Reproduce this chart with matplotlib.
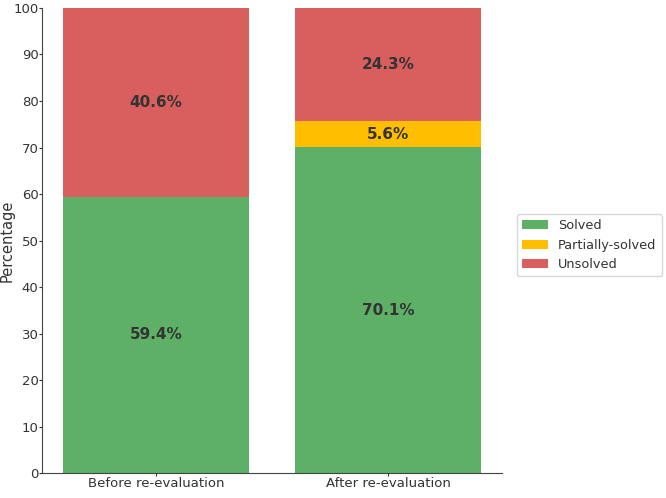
import matplotlib
matplotlib.use("Agg")
import matplotlib.pyplot as plt
import numpy as np

categories = ["Before re-evaluation", "After re-evaluation"]
solved = [59.4, 70.1]
partially = [0.0, 5.6]
unsolved = [40.6, 24.3]

green = "#5db066"
yellow = "#ffbf00"
red = "#d95f5e"
text_col = "#333333"

fig = plt.figure(figsize=(6.66, 4.98), dpi=100)
ax = fig.add_axes([0.063, 0.050, 0.691, 0.934])

x = np.arange(len(categories))
ax.bar(x, solved, width=0.8, color=green, label="Solved")
ax.bar(x, partially, width=0.8, bottom=solved, color=yellow, label="Partially-solved")
bottom2 = np.array(solved) + np.array(partially)
ax.bar(x, unsolved, width=0.8, bottom=bottom2, color=red, label="Unsolved")

def put_label(xi, base, h):
    ax.text(xi, base + h / 2, f"{h}%", ha="center", va="center",
            fontsize=11, fontweight="bold", color=text_col)

for i in range(len(categories)):
    put_label(x[i], 0, solved[i])
    if partially[i] > 0:
        put_label(x[i], solved[i], partially[i])
    put_label(x[i], bottom2[i], unsolved[i])

ax.set_ylim(0, 100)
ax.set_yticks(range(0, 101, 10))
ax.set_xticks(x)
ax.set_xticklabels(categories)
ax.set_ylabel("Percentage", fontsize=10.5, color=text_col)
ax.yaxis.set_label_coords(-0.06, 0.5)
ax.tick_params(colors=text_col, labelsize=9.5, length=2, pad=0.5)
for s in ["top", "right"]:
    ax.spines[s].set_visible(False)
for s in ["left", "bottom"]:
    ax.spines[s].set_color("#444444")

ax.legend(loc="center left", bbox_to_anchor=(1.018, 0.49), fontsize=9.3, frameon=True,
          labelcolor=text_col)

fig.savefig("out.png", dpi=100)
